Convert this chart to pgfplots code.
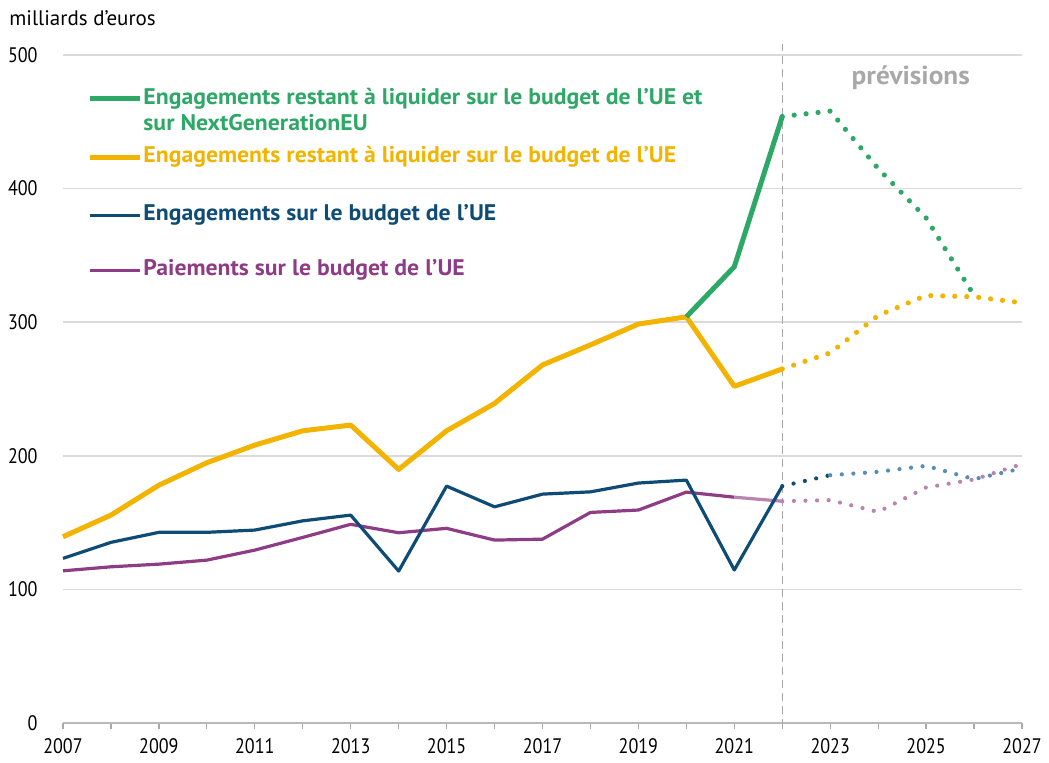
\documentclass[border=0pt]{standalone}
\usepackage{fontspec}
\setmainfont{PT Sans}[FakeStretch=0.86]
\newfontfamily\plainfont{PT Sans}
\newfontfamily\legfont{PT Sans}[FakeStretch=1.05]
\usepackage{pgfplots}
\pgfplotsset{compat=1.18}
\definecolor{cgreen}{HTML}{2DA866}
\definecolor{cyellow}{HTML}{F2B400}
\definecolor{cblue}{HTML}{0E4C76}
\definecolor{cblueL}{HTML}{5A8DB5}
\definecolor{cpurple}{HTML}{8D3C85}
\definecolor{cpurpleL}{HTML}{B884B0}
\definecolor{cgrid}{HTML}{DADADA}
\definecolor{cgray}{HTML}{A8A8A8}
\begin{document}
\begin{tikzpicture}[font=\fontsize{10.5}{12.5}\selectfont,
  legtext/.style={anchor=west, inner sep=0pt, font=\legfont\fontsize{11.3}{13}\bfseries}]
\useasboundingbox (-31.5pt,-20pt) rectangle (493pt,361.5pt);
\begin{axis}[
  at={(0,0)}, anchor=south west,
  scale only axis, width=479.5pt, height=334pt,
  xmin=2007, xmax=2027, ymin=0, ymax=500,
  clip=false,
  axis x line*=bottom, axis y line*=left,
  y axis line style={draw=none},
  x axis line style={draw=cgray!80, line width=1pt},
  xtick={2007,2009,...,2027},
  xticklabels={2007,2009,2011,2013,2015,2017,2019,2021,2023,2025,2027},
  minor xtick={2008,2010,...,2026},
  tick align=outside,
  major tick length=3.2pt, minor tick length=3.2pt,
  xtick style={draw=cgray, line width=0.6pt},
  minor tick style={draw=cgray, line width=0.6pt},
  ytick={0,100,...,500},
  ytick style={draw=none},
  ymajorgrids, grid style={cgrid, line width=0.8pt},
  /pgf/number format/assume math mode=true,
  tick label style={font=\fontsize{10.5}{12}\selectfont, text=black},
  yticklabel style={anchor=east, xshift=-6pt},
  xticklabel style={yshift=-1pt},
]
% vertical dashed line
\addplot[cgray, line width=0.7pt, dash pattern=on 4pt off 2.5pt] coordinates {(2022,-3) (2022,508)};
% purple
\addplot[cpurple, line width=1.6pt, line join=round] coordinates {
(2007,113.9) (2008,116.9) (2009,118.9) (2010,121.9) (2011,129.4) (2012,138.9) (2013,148.7)
(2014,142.4) (2015,145.7) (2016,136.9) (2017,137.6) (2018,157.6) (2019,159.4) (2020,172.8) (2021,169)};
\addplot[cpurpleL, line width=1.6pt] coordinates {(2021,169) (2022,166)};
\addplot[cpurpleL, line width=2.1pt, line cap=round, dash pattern=on 0pt off 5.8pt] coordinates {
(2022,166) (2023,166.8) (2024,158) (2025,176.3) (2026,182.3) (2027,193.8)};
% blue
\addplot[cblue, line width=1.6pt, line join=round] coordinates {
(2007,123.2) (2008,135.2) (2009,142.7) (2010,142.7) (2011,144.4) (2012,151.3) (2013,155.6)
(2014,113.7) (2015,177.3) (2016,161.8) (2017,171.3) (2018,173) (2019,179.6) (2020,181.8)
(2021,114.5) (2022,177.3)};
\addplot[cblue, line width=2.1pt, line cap=round, dash pattern=on 0pt off 5.8pt] coordinates {
(2022,177.3) (2023,185.5)};
\addplot[cblueL, line width=2.1pt, line cap=round, dash pattern=on 0pt off 5.8pt] coordinates {
(2023,185.5) (2024,188) (2025,192.5) (2026,182.5) (2027,190.6)};
% yellow
\addplot[cyellow, line width=2.5pt, line join=round] coordinates {
(2007,139.4) (2008,155.6) (2009,178) (2010,194.8) (2011,208) (2012,218.7) (2013,223)
(2014,189.8) (2015,218.7) (2016,239.2) (2017,268) (2018,283) (2019,298.6) (2020,304)
(2021,252) (2022,265)};
\addplot[cyellow, line width=2.6pt, line cap=round, dash pattern=on 0pt off 6pt] coordinates {
(2022,265) (2023,277) (2024,305) (2025,320) (2026,319) (2027,314.5)};
% green
\addplot[cgreen, line width=2.5pt, line join=round] coordinates {
(2020,304) (2021,341.5) (2022,454)};
\addplot[cgreen, line width=2.6pt, line cap=round, dash pattern=on 0pt off 6pt] coordinates {
(2022,454) (2023,458) (2024,415) (2025,378) (2026,320)};
% texts
\node[anchor=west, inner sep=0pt, font=\plainfont\fontsize{10.5}{12}\selectfont] at (axis cs:2005.874,527.6) {milliards d’euros};
\node[font=\legfont\fontsize{13}{15}\bfseries, text=cgray] at (axis cs:2024.68,482.7) {prévisions};
% legend
\draw[cgreen, line width=2.5pt] (axis cs:2007.56,467.6) -- (axis cs:2008.6,467.6);
\node[legtext, text=cgreen] at (axis cs:2008.67,467.6) {Engagements restant à liquider sur le budget de l’UE et};
\node[legtext, text=cgreen] at (axis cs:2008.67,449.6) {sur NextGenerationEU};
\draw[cyellow, line width=2.5pt] (axis cs:2007.56,423.5) -- (axis cs:2008.6,423.5);
\node[legtext, text=cyellow] at (axis cs:2008.67,423.5) {Engagements restant à liquider sur le budget de l’UE};
\draw[cblue, line width=1.6pt] (axis cs:2007.56,380) -- (axis cs:2008.6,380);
\node[legtext, text=cblue] at (axis cs:2008.67,380) {Engagements sur le budget de l’UE};
\draw[cpurple, line width=1.6pt] (axis cs:2007.56,338.8) -- (axis cs:2008.6,338.8);
\node[legtext, text=cpurple] at (axis cs:2008.67,338.8) {Paiements sur le budget de l’UE};
\end{axis}
\end{tikzpicture}
\end{document}
